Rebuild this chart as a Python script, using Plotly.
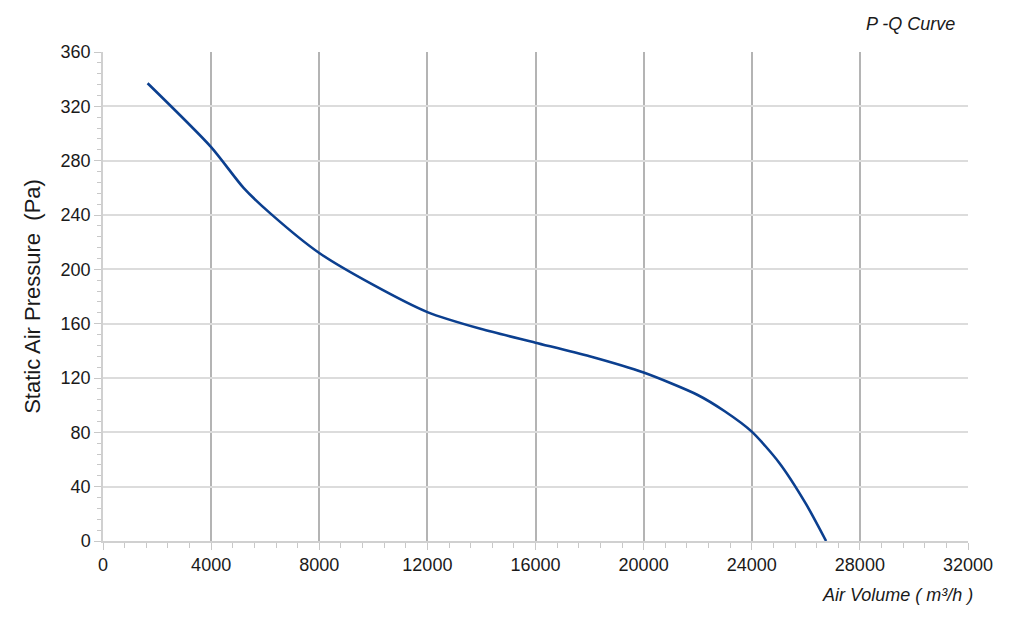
import plotly.graph_objects as go

# P-Q 曲线数据
air_volume = [1650, 4000, 5200, 6200, 8000, 10000, 12000, 14000, 16000, 18000,
              20000, 22000, 23000, 24000, 25000, 26000, 26750]
static_pressure = [337, 290, 260, 241, 212, 188.5, 168.5, 156, 146, 136,
                   124, 107.5, 95.5, 80.5, 58, 27.5, 0]

x_ticks = [0, 4000, 8000, 12000, 16000, 20000, 24000, 28000, 32000]
y_ticks = [0, 40, 80, 120, 160, 200, 240, 280, 320, 360]

font_family = "Liberation Sans, Arial, sans-serif"

fig = go.Figure()

fig.add_trace(go.Scatter(
    x=air_volume,
    y=static_pressure,
    mode="lines",
    line=dict(color="#0b3f8f", width=2.6, shape="spline", smoothing=0.7),
    showlegend=False,
    hoverinfo="skip"
))

fig.update_layout(
    width=1024,
    height=622,
    paper_bgcolor="white",
    plot_bgcolor="white",
    margin=dict(l=95, r=64, t=44, b=89),
    font=dict(family=font_family, color="#1a1a1a"),
    xaxis=dict(
        range=[0, 32000],
        tickvals=x_ticks,
        ticktext=[str(v) for v in x_ticks],
        showgrid=True,
        gridcolor="#b4b4b4",
        gridwidth=1.5,
        showline=True,
        linecolor="#d0d0d0",
        linewidth=1.5,
        ticks="outside",
        ticklen=7,
        tickcolor="#c8c8c8",
        tickfont=dict(size=18),
        zeroline=False,
        minor=dict(dtick=800, ticks="outside", ticklen=5, tickcolor="#c8c8c8", showgrid=False),
    ),
    yaxis=dict(
        range=[0, 360],
        tickvals=y_ticks,
        ticktext=[str(v) for v in y_ticks],
        showgrid=True,
        gridcolor="#dcdcdc",
        gridwidth=1.5,
        showline=True,
        linecolor="#d0d0d0",
        linewidth=1.5,
        ticks="outside",
        ticklen=7,
        tickcolor="#c8c8c8",
        tickfont=dict(size=18),
        zeroline=False,
        minor=dict(dtick=8, ticks="outside", ticklen=4, tickcolor="#c8c8c8", showgrid=False),
        title=dict(text="Static Air Pressure  (Pa)", font=dict(size=22), standoff=14),
    ),
    annotations=[
        dict(text="<i>P -Q Curve</i>", xref="paper", yref="paper",
             x=1.0, y=1.0, xanchor="right", yanchor="bottom", yshift=16, xshift=-11,
             showarrow=False, font=dict(size=18)),
        dict(text="<i>Air Volume ( m³/h )</i>", xref="paper", yref="paper",
             x=1.0, y=0.0, xanchor="right", yanchor="top", yshift=-42, xshift=7,
             showarrow=False, font=dict(size=18)),
    ],
)

fig.write_html("out.html")
